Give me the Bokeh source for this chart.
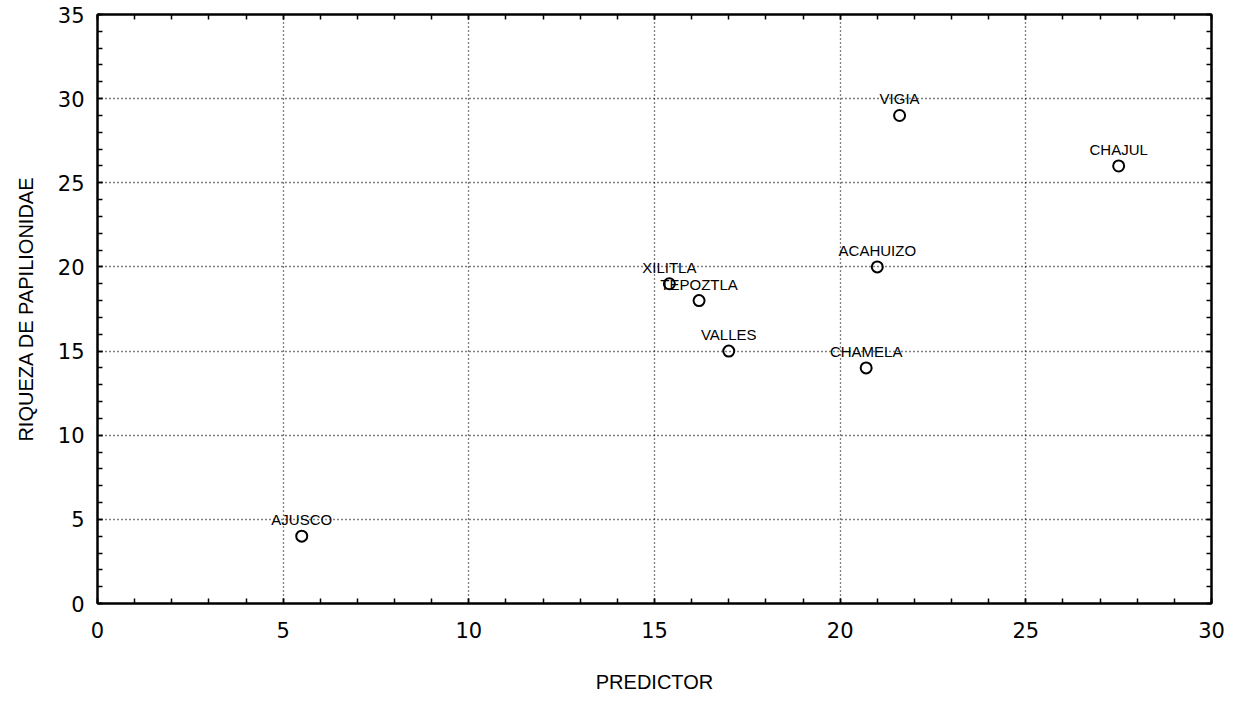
from bokeh.plotting import figure
from bokeh.models import (ColumnDataSource, LabelSet, LinearAxis, SingleIntervalTicker, Range1d)
from bokeh.core.properties import value
from bokeh.embed import file_html
from bokeh.resources import INLINE

sites = ["AJUSCO", "XILITLA", "TEPOZTLA", "VALLES", "CHAMELA", "ACAHUIZO", "VIGIA", "CHAJUL"]
predictor = [5.5, 15.4, 16.2, 17.0, 20.7, 21.0, 21.6, 27.5]
riqueza = [4, 19, 18, 15, 14, 20, 29, 26]

src = ColumnDataSource(dict(x=predictor, y=riqueza, name=sites))

p = figure(frame_width=1114, frame_height=589,
           min_border_left=97, min_border_top=14, min_border_right=26, min_border_bottom=99,
           x_range=Range1d(0, 30), y_range=Range1d(0, 35),
           output_backend="svg", toolbar_location=None,
           x_axis_label="PREDICTOR", y_axis_label="RIQUEZA DE PAPILIONIDAE")

p.background_fill_color = "white"
p.border_fill_color = "white"
p.outline_line_color = "black"
p.outline_line_width = 2

tick_font = "DejaVu Sans"
label_font = "Liberation Sans"

for ax in (p.xaxis[0], p.yaxis[0]):
    ax.ticker = SingleIntervalTicker(interval=5, num_minor_ticks=5)
    ax.axis_line_color = "black"
    ax.axis_line_width = 2
    ax.major_tick_in = 5
    ax.major_tick_out = 0
    ax.minor_tick_in = 5
    ax.minor_tick_out = 0
    ax.major_tick_line_color = "black"
    ax.minor_tick_line_color = "black"
    ax.major_tick_line_width = 1.5
    ax.minor_tick_line_width = 1.5
    ax.major_label_text_font = tick_font
    ax.major_label_text_font_size = "21px"
    ax.major_label_text_color = "black"
    ax.axis_label_text_font = label_font
    ax.axis_label_text_font_size = "20px"
    ax.axis_label_text_font_style = "normal"
    ax.axis_label_text_color = "black"

p.xaxis[0].major_label_standoff = 18
p.xaxis[0].axis_label_standoff = 30
p.yaxis[0].major_label_standoff = 13
p.yaxis[0].axis_label_standoff = 18

for loc, rng in (("above", range(0, 31, 5)), ("right", range(0, 36, 5))):
    ax = LinearAxis(ticker=SingleIntervalTicker(interval=5, num_minor_ticks=5))
    ax.axis_line_color = "black"
    ax.axis_line_width = 2
    ax.major_tick_in = 5
    ax.major_tick_out = 0
    ax.minor_tick_in = 5
    ax.minor_tick_out = 0
    ax.major_tick_line_width = 1.5
    ax.minor_tick_line_width = 1.5
    ax.major_label_overrides = {v: "" for v in rng}
    ax.major_label_standoff = 0
    p.add_layout(ax, loc)

for g in (p.xgrid[0], p.ygrid[0]):
    g.ticker = SingleIntervalTicker(interval=5)
    g.grid_line_color = "black"
    g.grid_line_width = 1.3
    g.grid_line_dash = "1 3"

p.scatter("x", "y", source=src, marker="circle", size=11,
          fill_color=None, line_color="black", line_width=2)

labels = LabelSet(x="x", y="y", text="name", source=src,
                  text_align="center", text_baseline="alphabetic",
                  y_offset=11, text_font=value(label_font), text_font_size="15px",
                  text_color="black")
p.add_layout(labels)

open("out.html", "w").write(file_html(p, INLINE))
